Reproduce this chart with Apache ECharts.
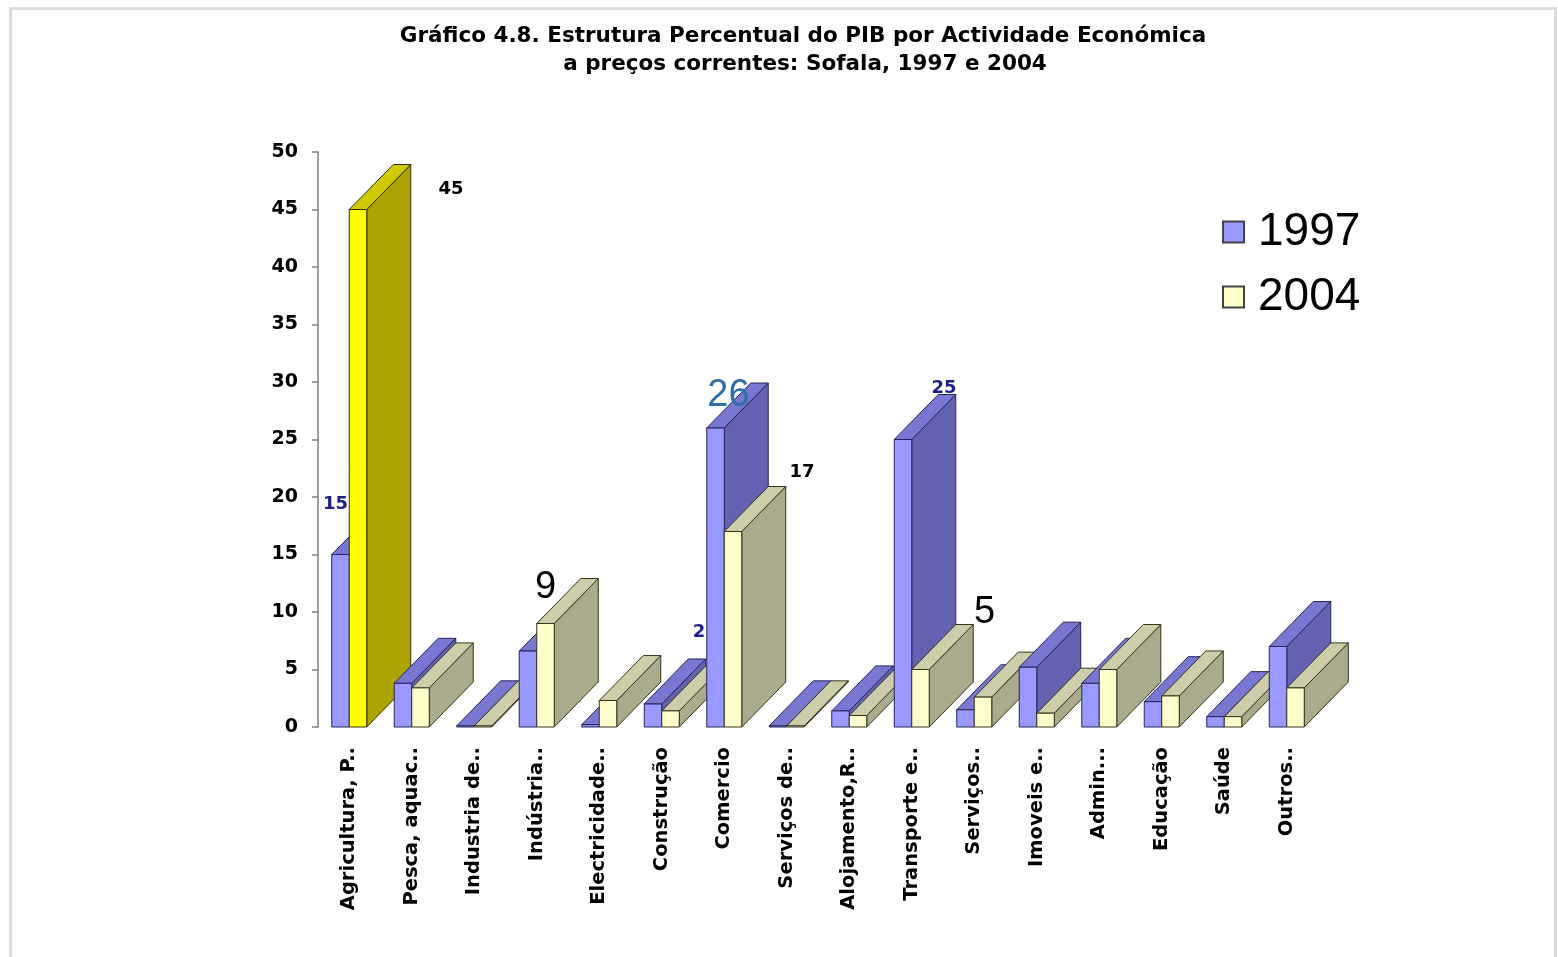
<!DOCTYPE html>
<html>
<head>
<meta charset="utf-8">
<script src="https://cdn.jsdelivr.net/npm/echarts@6/dist/echarts.min.js"></script>
<style>
  html, body { margin: 0; padding: 0; background: #fff; }
  #chart { width: 1558px; height: 957px; }
</style>
</head>
<body>
<div id="chart"></div>
<script>
// PIB por actividade económica, Sofala (% do total)
const categories = [
  'Agricultura, P..', 'Pesca, aquac..', 'Industria de..', 'Indústria..',
  'Electricidade..', 'Construção', 'Comercio', 'Serviços de..',
  'Alojamento,R..', 'Transporte e..', 'Serviços..', 'Imoveis e..',
  'Admin...', 'Educação', 'Saúde', 'Outros..'
];
const values1997 = [15, 3.8, 0.1, 6.6, 0.2, 2, 26, 0.1, 1.4, 25, 1.5, 5.2, 3.8, 2.2, 0.9, 7];
const values2004 = [45, 3.4, 0.1, 9, 2.3, 1.4, 17, 0.1, 1.0, 5, 2.6, 1.2, 5.0, 2.7, 0.9, 3.4];
const seriesNames = ['1997', '2004'];
const yMin = 0, yMax = 50, yStep = 5;

// Data labels: which point gets one, and how it is placed / styled
const valueLabels = [
  { s: 0, i: 0, dx: -5,  dy: -50, size: 18, color: '#1c1c8a', heavy: true },
  { s: 1, i: 0, dx: 93,  dy: -20, size: 18, color: '#000000', heavy: true },
  { s: 1, i: 3, dx: 0,   dy: -36, size: 38, color: '#000000', heavy: false },
  { s: 0, i: 5, dx: 46,  dy: -72, size: 18, color: '#1c1c8a', heavy: true },
  { s: 0, i: 6, dx: 13,  dy: -32, size: 38, color: '#2f6ea6', heavy: false },
  { s: 1, i: 6, dx: 69,  dy: -59, size: 18, color: '#000000', heavy: true },
  { s: 0, i: 9, dx: 41,  dy: -51, size: 18, color: '#1c1c8a', heavy: true },
  { s: 1, i: 9, dx: 64,  dy: -57, size: 38, color: '#000000', heavy: false }
];

// 3D prism geometry (pixels)
const BAR_W = 17.5;
const DEPTH_X = 44;
const DEPTH_Y = -45;

const faces = [
  { front: '#9999FF', top: '#7878D2', side: '#6363B2', stroke: '#24245a' },
  { front: '#FFFFCC', top: '#CDCDAA', side: '#AAAA8C', stroke: '#33331f' }
];
const accentFaces = { front: '#FFFF00', top: '#CFCB00', side: '#ABA300', stroke: '#333000' };
const accentPoints = [{ s: 1, i: 0 }];

const allValues = [values1997, values2004];
const FONT = '"Liberation Sans", Arial, sans-serif';
const HEAVY = '"DejaVu Sans", "Liberation Sans", sans-serif';

function facesFor(s, i) {
  return accentPoints.some(p => p.s === s && p.i === i) ? accentFaces : faces[s];
}

function prismRenderer(s) {
  return function (params, api) {
    const ci = api.value(0);
    const v = api.value(1);
    const base = api.coord([ci, 0]);
    const topPt = api.coord([ci, v]);
    const x0 = s === 0 ? base[0] - BAR_W : base[0];
    const x1 = x0 + BAR_W;
    const yb = base[1];
    const yt = topPt[1];
    const col = facesFor(s, params.dataIndex);
    const z = ci * 10 + s * 4;
    const st = fill => ({ fill: fill, stroke: col.stroke, lineWidth: 1, lineJoin: 'round' });
    return {
      type: 'group',
      children: [
        { type: 'polygon', z2: z,
          shape: { points: [[x1, yt], [x1 + DEPTH_X, yt + DEPTH_Y], [x1 + DEPTH_X, yb + DEPTH_Y], [x1, yb]] },
          style: st(col.side) },
        { type: 'polygon', z2: z + 1,
          shape: { points: [[x0, yt], [x1, yt], [x1 + DEPTH_X, yt + DEPTH_Y], [x0 + DEPTH_X, yt + DEPTH_Y]] },
          style: st(col.top) },
        { type: 'rect', z2: z + 2,
          shape: { x: x0, y: yt, width: BAR_W, height: yb - yt },
          style: st(col.front) }
      ]
    };
  };
}

const labelData = valueLabels.map((l, k) => [l.i, allValues[l.s][l.i], k]);

function labelRenderer(params, api) {
  const ci = api.value(0);
  const v = api.value(1);
  const l = valueLabels[api.value(2)];
  const p = api.coord([ci, v]);
  const cx = p[0] + (l.s === 0 ? -BAR_W / 2 : BAR_W / 2);
  return {
    type: 'text',
    z2: 1000,
    style: {
      x: cx + l.dx, y: p[1] + l.dy,
      text: String(Math.round(v)),
      fill: l.color,
      font: (l.heavy ? 'bold ' + l.size + 'px ' + HEAVY : 'normal ' + l.size + 'px ' + FONT),
      align: 'center', verticalAlign: 'middle'
    }
  };
}

const chart = echarts.init(document.getElementById('chart'), null, { renderer: 'canvas' });

chart.setOption({
  backgroundColor: '#ffffff',
  animation: false,
  graphic: [
    { type: 'rect', z: -10, shape: { x: 10.5, y: 8.5, width: 1545, height: 960 },
      style: { fill: 'none', stroke: '#dcdcdc', lineWidth: 3 } },
    { type: 'text', style: {
        x: 803, y: 36, text: 'Gráfico 4.8. Estrutura Percentual do PIB por Actividade Económica',
        fill: '#000', font: 'bold 21.5px ' + HEAVY, align: 'center', verticalAlign: 'middle' } },
    { type: 'text', style: {
        x: 805, y: 64, text: 'a preços correntes: Sofala, 1997 e 2004',
        fill: '#000', font: 'bold 21.5px ' + HEAVY, align: 'center', verticalAlign: 'middle' } }
  ],
  legend: {
    data: seriesNames,
    orient: 'vertical',
    left: 1217, top: 203,
    itemWidth: 21, itemHeight: 21,
    itemGap: 17,
    icon: 'rect',
    textStyle: { fontSize: 46, fontFamily: FONT, color: '#000', lineHeight: 48, padding: [0, 0, 0, 9] }
  },
  grid: { left: 318, right: 240, top: 152, bottom: 230, containLabel: false },
  xAxis: {
    type: 'category',
    data: categories,
    axisLine: { show: false },
    axisTick: { show: false },
    axisLabel: {
      interval: 0, rotate: 90, margin: 20,
      fontSize: 19.5, fontWeight: 'bold', fontFamily: HEAVY, color: '#000'
    }
  },
  yAxis: {
    type: 'value',
    min: yMin, max: yMax, interval: yStep,
    axisLine: { show: true, lineStyle: { color: '#7f7f7f', width: 1.5 } },
    axisTick: { show: true, length: 6, lineStyle: { color: '#7f7f7f', width: 1.5 } },
    splitLine: { show: false },
    axisLabel: { margin: 20, fontSize: 19, fontWeight: 'bold', fontFamily: HEAVY, color: '#000' }
  },
  series: [
    {
      name: seriesNames[0], type: 'custom', z: 2,
      itemStyle: { color: faces[0].front, borderColor: '#444', borderWidth: 1 },
      renderItem: prismRenderer(0),
      data: values1997.map((v, i) => [i, v])
    },
    {
      name: seriesNames[1], type: 'custom', z: 2,
      itemStyle: { color: faces[1].front, borderColor: '#444', borderWidth: 1 },
      renderItem: prismRenderer(1),
      data: values2004.map((v, i) => [i, v])
    },
    {
      name: 'rótulos', type: 'custom', z: 3,
      renderItem: labelRenderer,
      data: labelData,
      silent: true
    }
  ]
});
</script>
</body>
</html>
